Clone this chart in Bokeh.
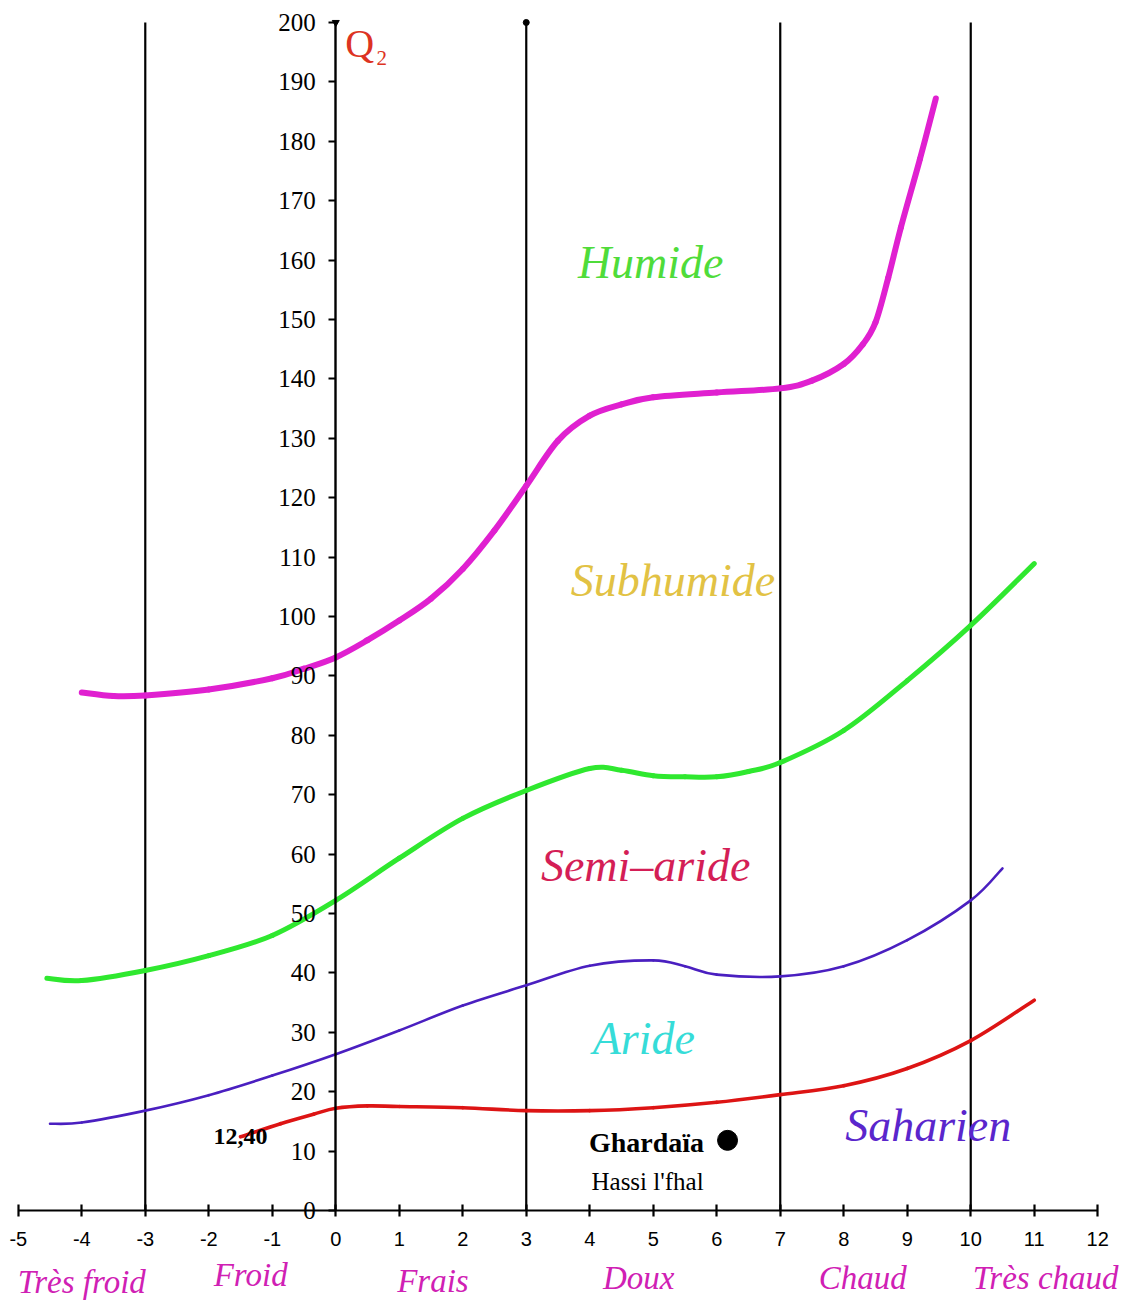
from bokeh.plotting import figure
from bokeh.models import LinearAxis, FixedTicker, ColumnDataSource, Range1d
from bokeh.core.properties import value
from bokeh.embed import file_html
from bokeh.resources import INLINE

# Emberger climagram: Q2 against m (mean minimum of the coldest month, °C)

# Limits between bioclimatic stages
humide_x = [-4, -3.5, -3, -2, -1, -0.5, 0, 0.5, 1, 1.5, 2, 2.5, 3, 3.5, 4, 4.5, 5, 6, 7, 7.5, 8, 8.3, 8.5, 8.7, 8.9, 9.2, 9.45]
humide_y = [87.2, 86.6, 86.7, 87.7, 89.6, 91.2, 93.1, 96.0, 99.3, 103.0, 108.0, 114.5, 122.0, 129.6, 133.8, 135.7, 136.9, 137.7, 138.4, 139.7, 142.5, 145.8, 149.5, 157.0, 165.5, 177.0, 187.2]

subhumide_x = [-4.55, -4, -3, -2, -1, 0, 1, 2, 3, 4, 4.5, 5, 5.5, 6, 6.5, 7, 8, 9, 10, 11]
subhumide_y = [39.1, 38.7, 40.4, 42.9, 46.3, 52.2, 59.3, 66.0, 70.7, 74.4, 74.1, 73.2, 73.0, 73.0, 73.9, 75.4, 80.8, 89.2, 98.5, 108.9]

semiaride_x = [-4.5, -4, -3, -2, -1, 0, 1, 2, 3, 4, 5, 5.5, 6, 7, 8, 9, 10, 10.5]
semiaride_y = [14.6, 14.8, 16.8, 19.4, 22.7, 26.3, 30.3, 34.5, 37.9, 41.2, 42.1, 41.1, 39.7, 39.4, 41.1, 45.5, 52.2, 57.6]

aride_x = [-1.5, -0.87, -0.35, 0, 0.5, 1, 2, 3, 4, 5, 6, 7, 8, 9, 10, 11]
aride_y = [12.4, 14.6, 16.2, 17.2, 17.6, 17.5, 17.3, 16.8, 16.8, 17.3, 18.2, 19.5, 21.0, 23.9, 28.6, 35.4]

# Station
station_name = ["Ghardaïa"]
station_site = ["Hassi l'fhal"]
station_m = [6.17]
station_q2 = [11.8]

# Boundaries between thermal variants
variant_limits = [-3, 3, 7, 10]

x_ticks = list(range(-5, 13))
y_ticks = list(range(0, 201, 10))

zone_names = ["Humide", "Subhumide", "Semi\u2013aride", "Aride", "Saharien"]
zone_colors = ["#4fdc3a", "#e2c244", "#d41e56", "#36dcd8", "#5a26cc"]
zone_x = [4.96, 5.31, 4.88, 4.85, 9.33]
zone_y = [159.6, 106.1, 58.1, 29.0, 14.3]

variant_names = ["Très froid", "Froid", "Frais", "Doux", "Chaud", "Très chaud"]
variant_x = [-4.0, -1.34, 1.53, 4.77, 8.3, 11.18]
variant_y = [-12.1, -10.9, -11.8, -11.3, -11.4, -11.4]


def smooth_segments(xs, ys):
    """Cubic Bezier pieces (Catmull-Rom) passing through every given point."""
    n = len(xs)
    seg = dict(x0=[], y0=[], x1=[], y1=[], cx0=[], cy0=[], cx1=[], cy1=[])
    for i in range(n - 1):
        xa, ya = xs[max(i - 1, 0)], ys[max(i - 1, 0)]
        xb, yb = xs[i], ys[i]
        xc, yc = xs[i + 1], ys[i + 1]
        xd, yd = xs[min(i + 2, n - 1)], ys[min(i + 2, n - 1)]
        seg["x0"].append(xb); seg["y0"].append(yb)
        seg["x1"].append(xc); seg["y1"].append(yc)
        seg["cx0"].append(xb + (xc - xa) / 6); seg["cy0"].append(yb + (yc - ya) / 6)
        seg["cx1"].append(xc - (xd - xb) / 6); seg["cy1"].append(yc - (yd - yb) / 6)
    return ColumnDataSource(seg)


p = figure(width=1122, height=1302, output_backend="svg", toolbar_location=None,
           x_range=Range1d(-5.28, 12.39), y_range=Range1d(-15.5, 203.7),
           x_axis_type=None, y_axis_type=None, min_border=0)
p.outline_line_color = None
p.xgrid.visible = False
p.ygrid.visible = False
p.background_fill_color = "white"
p.border_fill_color = "white"

# Axes crossing at the origin
xaxis = LinearAxis(fixed_location=0, bounds=(-5, 12), ticker=FixedTicker(ticks=x_ticks),
                   axis_line_width=2.2, major_tick_line_width=2.2,
                   major_tick_in=6, major_tick_out=6, minor_tick_line_color=None,
                   major_label_standoff=16,
                   major_label_overrides={t: str(t) for t in x_ticks},
                   major_label_text_font="Liberation Sans", major_label_text_font_size="20px",
                   major_label_text_color="black")
yaxis = LinearAxis(fixed_location=0, bounds=(0, 200), ticker=FixedTicker(ticks=y_ticks),
                   axis_line_width=2.4, major_tick_line_width=2.2,
                   major_tick_in=0, major_tick_out=7, minor_tick_line_color=None,
                   major_label_standoff=13,
                   major_label_text_font="Liberation Serif", major_label_text_font_size="25px",
                   major_label_text_color="black")
p.add_layout(xaxis, "below")
p.add_layout(yaxis, "left")

# Vertical limits of thermal variants
p.segment(x0=variant_limits, y0=[0] * len(variant_limits), x1=variant_limits,
          y1=[200] * len(variant_limits), line_color="black", line_width=2.2)
p.scatter([3], [200], size=6, color="black")
p.scatter([0], [200], size=7, color="black", marker="triangle", angle=3.14159)

# Stage limits
for xs, ys, col, lw in [(humide_x, humide_y, "#e020d0", 6),
                        (subhumide_x, subhumide_y, "#2fe82f", 5),
                        (semiaride_x, semiaride_y, "#4a1fc0", 2.6),
                        (aride_x, aride_y, "#dd1414", 3.6)]:
    p.bezier(x0="x0", y0="y0", x1="x1", y1="y1", cx0="cx0", cy0="cy0", cx1="cx1", cy1="cy1",
             source=smooth_segments(xs, ys), line_color=col, line_width=lw, line_cap="round")

# Start value of the lower limit
p.text(x=[aride_x[0]], y=[aride_y[0]], text=[f"{aride_y[0]:.2f}".replace(".", ",")],
       text_font=value("Liberation Serif"), text_font_style="bold", text_font_size="24px",
       text_color="black", text_align="center", text_baseline="middle")

# Station point
p.scatter(station_m, station_q2, size=20, color="black")
p.text(x=[station_m[0] - 0.37], y=[station_q2[0] - 0.4], text=station_name,
       text_font=value("Liberation Serif"), text_font_style="bold", text_font_size="28px",
       text_color="black", text_align="right", text_baseline="middle")
p.text(x=[4.91], y=[4.9], text=station_site,
       text_font=value("Liberation Serif"), text_font_size="25px",
       text_color="black", text_align="center", text_baseline="middle")

# Stage names
zones = ColumnDataSource(dict(x=zone_x, y=zone_y, t=zone_names, c=zone_colors))
p.text(x="x", y="y", text="t", text_color="c", source=zones,
       text_font=value("Liberation Serif"), text_font_style="italic", text_font_size="46px",
       text_align="center", text_baseline="middle")

# Thermal variant names
variants = ColumnDataSource(dict(x=variant_x, y=variant_y, t=variant_names))
p.text(x="x", y="y", text="t", source=variants, text_color="#d020b4",
       text_font=value("Liberation Serif"), text_font_style="italic", text_font_size="33px",
       text_align="center", text_baseline="middle")

# Axis title Q2
p.text(x=[0.15], y=[196.4], text=["Q"], text_color="#dd3322",
       text_font=value("Liberation Serif"), text_font_size="40px",
       text_align="left", text_baseline="middle")
p.text(x=[0.64], y=[194.0], text=["2"], text_color="#dd3322",
       text_font=value("Liberation Serif"), text_font_size="21px",
       text_align="left", text_baseline="middle")

open("out.html", "w").write(file_html(p, INLINE))
